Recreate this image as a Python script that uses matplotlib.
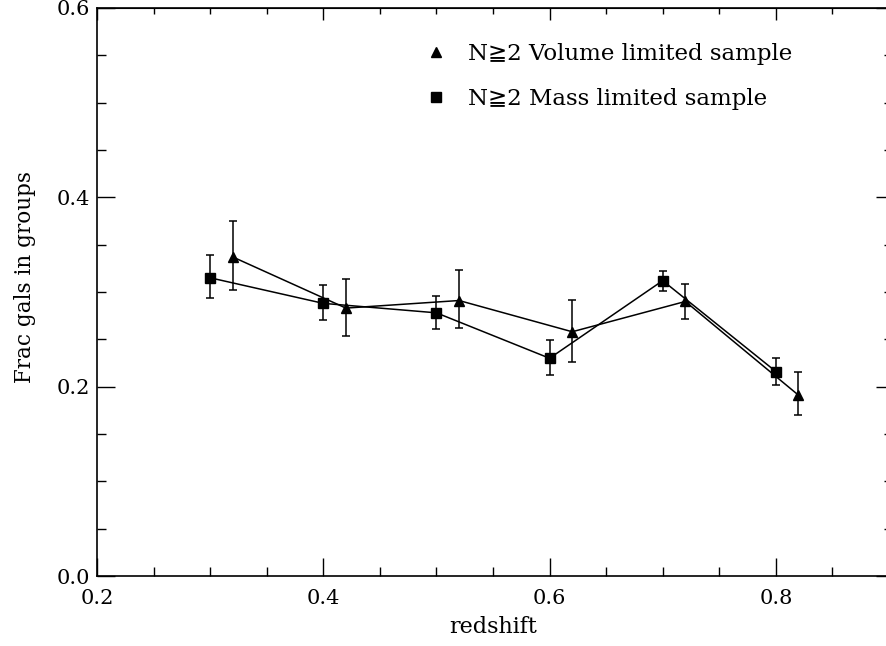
import numpy as np
import matplotlib
matplotlib.use("Agg")
import matplotlib.pyplot as plt
from matplotlib.lines import Line2D
from matplotlib.ticker import MultipleLocator

plt.rcParams['font.family'] = ['DejaVu Serif', 'DejaVu Sans']

# Mass limited sample (squares)
z_mass = [0.30, 0.40, 0.50, 0.60, 0.70, 0.80]
f_mass = [0.315, 0.288, 0.278, 0.230, 0.312, 0.216]
lo_mass = [0.294, 0.270, 0.261, 0.212, 0.301, 0.202]
hi_mass = [0.339, 0.307, 0.296, 0.249, 0.322, 0.230]

# Volume limited sample (triangles)
z_vol = [0.32, 0.42, 0.52, 0.62, 0.72, 0.82]
f_vol = [0.337, 0.283, 0.291, 0.258, 0.290, 0.191]
lo_vol = [0.302, 0.254, 0.262, 0.226, 0.272, 0.170]
hi_vol = [0.375, 0.314, 0.323, 0.292, 0.308, 0.215]

lab_vol = 'N\u22672 Volume limited sample'
lab_mass = 'N\u22672 Mass limited sample'

fig = plt.figure(figsize=(8.86, 6.46), dpi=100)
ax = fig.add_axes([97 / 886, 70 / 646, 792 / 886, 568 / 646])

err_mass = [np.array(f_mass) - np.array(lo_mass), np.array(hi_mass) - np.array(f_mass)]
err_vol = [np.array(f_vol) - np.array(lo_vol), np.array(hi_vol) - np.array(f_vol)]

ax.errorbar(z_mass, f_mass, yerr=err_mass, color='black', lw=1.1, marker='s', ms=7.5,
            capsize=3, elinewidth=1.1, capthick=1.1)
ax.errorbar(z_vol, f_vol, yerr=err_vol, color='black', lw=1.1, marker='^', ms=7.5,
            capsize=3, elinewidth=1.1, capthick=1.1)

ax.set_xlim(0.2, 0.9)
ax.set_ylim(0.0, 0.6)
ax.xaxis.set_major_locator(MultipleLocator(0.2))
ax.xaxis.set_minor_locator(MultipleLocator(0.05))
ax.yaxis.set_major_locator(MultipleLocator(0.2))
ax.yaxis.set_minor_locator(MultipleLocator(0.05))
ax.xaxis.set_major_formatter(plt.FormatStrFormatter('%.1f'))
ax.yaxis.set_major_formatter(plt.FormatStrFormatter('%.1f'))

ax.tick_params(which='both', direction='in', labelsize=15, width=1)
ax.tick_params(axis='x', pad=9)
ax.tick_params(axis='y', pad=5)
ax.tick_params(which='major', length=13)
ax.tick_params(which='minor', length=6.5)

# top and right ticks, a bit shorter
secx = ax.secondary_xaxis('top')
secx.xaxis.set_major_locator(MultipleLocator(0.2))
secx.xaxis.set_minor_locator(MultipleLocator(0.05))
secx.tick_params(which='both', direction='in', labeltop=False, width=1)
secx.tick_params(which='major', length=8.5)
secx.tick_params(which='minor', length=4)
secy = ax.secondary_yaxis('right')
secy.yaxis.set_major_locator(MultipleLocator(0.2))
secy.yaxis.set_minor_locator(MultipleLocator(0.05))
secy.tick_params(which='both', direction='in', labelright=False, width=1)
secy.tick_params(which='major', length=9.5)
secy.tick_params(which='minor', length=3.5)

for s in ax.spines.values():
    s.set_linewidth(1.2)

ax.set_xlabel('redshift', fontsize=16, labelpad=6)
ax.set_ylabel('Frac gals in groups', fontsize=15.5)
ax.yaxis.set_label_coords(-0.077, 0.526)

handles = [Line2D([], [], color='black', marker='^', ls='none', ms=7),
           Line2D([], [], color='black', marker='s', ls='none', ms=7.5)]
ax.legend(handles, [lab_vol, lab_mass], loc='upper left', bbox_to_anchor=(0.388, 0.975),
          frameon=False, fontsize=16.5, handlelength=1.0, handletextpad=0.9, labelspacing=1.0)

fig.savefig('out.png', dpi=100)
